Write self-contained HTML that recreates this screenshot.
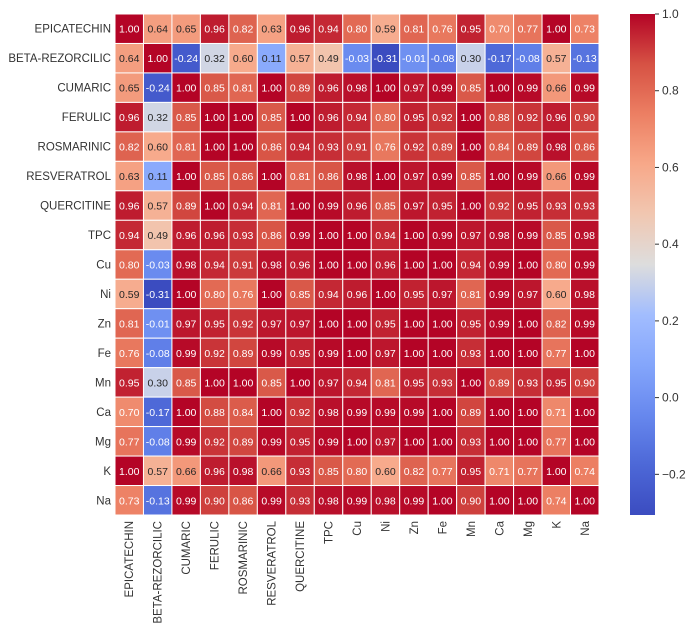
<!DOCTYPE html>
<html><head><meta charset="utf-8"><style>
body{margin:0;background:#fff;width:699px;height:634px;overflow:hidden}
svg text{font-family:"Liberation Sans",sans-serif}
</style></head><body>
<svg id="chart" width="699" height="634" xmlns="http://www.w3.org/2000/svg">
<defs><linearGradient id="cbg" x1="0" y1="1" x2="0" y2="0"></linearGradient></defs>
</svg>
<script>
const labels=["EPICATECHIN","BETA-REZORCILIC","CUMARIC","FERULIC","ROSMARINIC","RESVERATROL","QUERCITINE","TPC","Cu","Ni","Zn","Fe","Mn","Ca","Mg","K","Na"];
const rowEPI=[1.00,0.64,0.65,0.96,0.82,0.63,0.96,0.94,0.80,0.59,0.81,0.76,0.95,0.70,0.77,1.00,0.73];
const rowBETA=[0.64,1.00,-0.24,0.32,0.60,0.11,0.57,0.49,-0.03,-0.31,-0.01,-0.08,0.30,-0.17,-0.08,0.57,-0.13];
const rowCUM=[0.65,-0.24,1.00,0.85,0.81,1.00,0.89,0.96,0.98,1.00,0.97,0.99,0.85,1.00,0.99,0.66,0.99];
const rowFER=[0.96,0.32,0.85,1.00,1.00,0.85,1.00,0.96,0.94,0.80,0.95,0.92,1.00,0.88,0.92,0.96,0.90];
const rowROS=[0.82,0.60,0.81,1.00,1.00,0.86,0.94,0.93,0.91,0.76,0.92,0.89,1.00,0.84,0.89,0.98,0.86];
const rowRES=[0.63,0.11,1.00,0.85,0.86,1.00,0.81,0.86,0.98,1.00,0.97,0.99,0.85,1.00,0.99,0.66,0.99];
const rowQUE=[0.96,0.57,0.89,1.00,0.94,0.81,1.00,0.99,0.96,0.85,0.97,0.95,1.00,0.92,0.95,0.93,0.93];
const rowTPC=[0.94,0.49,0.96,0.96,0.93,0.86,0.99,1.00,1.00,0.94,1.00,0.99,0.97,0.98,0.99,0.85,0.98];
const rowCu=[0.80,-0.03,0.98,0.94,0.91,0.98,0.96,1.00,1.00,0.96,1.00,1.00,0.94,0.99,1.00,0.80,0.99];
const rowNi=[0.59,-0.31,1.00,0.80,0.76,1.00,0.85,0.94,0.96,1.00,0.95,0.97,0.81,0.99,0.97,0.60,0.98];
const rowZn=[0.81,-0.01,0.97,0.95,0.92,0.97,0.97,1.00,1.00,0.95,1.00,1.00,0.95,0.99,1.00,0.82,0.99];
const rowFe=[0.76,-0.08,0.99,0.92,0.89,0.99,0.95,0.99,1.00,0.97,1.00,1.00,0.93,1.00,1.00,0.77,1.00];
const rowMn=[0.95,0.30,0.85,1.00,1.00,0.85,1.00,0.97,0.94,0.81,0.95,0.93,1.00,0.89,0.93,0.95,0.90];
const rowCa=[0.70,-0.17,1.00,0.88,0.84,1.00,0.92,0.98,0.99,0.99,0.99,1.00,0.89,1.00,1.00,0.71,1.00];
const rowMg=[0.77,-0.08,0.99,0.92,0.89,0.99,0.95,0.99,1.00,0.97,1.00,1.00,0.93,1.00,1.00,0.77,1.00];
const rowK=[1.00,0.57,0.66,0.96,0.98,0.66,0.93,0.85,0.80,0.60,0.82,0.77,0.95,0.71,0.77,1.00,0.74];
const rowNa=[0.73,-0.13,0.99,0.90,0.86,0.99,0.93,0.98,0.99,0.98,0.99,1.00,0.90,1.00,1.00,0.74,1.00];
const matrix=[rowEPI,rowBETA,rowCUM,rowFER,rowROS,rowRES,rowQUE,rowTPC,rowCu,rowNi,rowZn,rowFe,rowMn,rowCa,rowMg,rowK,rowNa];
const cbTicks=[-0.2,0.0,0.2,0.4,0.6,0.8,1.0];
const vmin=-0.306,vmax=1.0;

const NS="http://www.w3.org/2000/svg";
const svg=document.getElementById('chart');
const X0=115,Y0=14,W=484,H=501,n=labels.length,cw=W/n,ch=H/n;
const xs=i=>X0+i*cw, ys=i=>Y0+i*ch;
const stops=[[0,59,76,192],[0.1,77,104,215],[0.2,103,136,238],[0.3,132,166,251],[0.4,162,189,254],[0.5,221,221,221],[0.6,241,199,177],[0.7,247,168,137],[0.8,236,127,99],[0.9,214,82,68],[1,180,4,38]];
function cmap(v){let t=(v-vmin)/(vmax-vmin);t=Math.max(0,Math.min(1,t));
for(let k=1;k<stops.length;k++){if(t<=stops[k][0]){const a=stops[k-1],b=stops[k],f=(t-a[0])/(b[0]-a[0]);
return [1,2,3].map(j=>Math.round(a[j]+(b[j]-a[j])*f));}}return [180,4,38];}
function relLum(c){const l=c.map(x=>{x/=255;return x<=0.03928?x/12.92:Math.pow((x+0.055)/1.055,2.4);});return 0.2126*l[0]+0.7152*l[1]+0.0722*l[2];}
function el(tag,attrs,txt){const e=document.createElementNS(NS,tag);for(const k in attrs)e.setAttribute(k,attrs[k]);if(txt!==undefined)e.textContent=txt;svg.appendChild(e);return e;}
const fmt=v=>{let s=v.toFixed(2);if(s==="-0.00")s="0.00";return s;};
for(let r=0;r<n;r++)for(let c=0;c<n;c++){
 const v=matrix[r][c],col=cmap(v);
 const rc=el('rect',{x:xs(c),y:ys(r),width:cw,height:ch,fill:`rgb(${col})`,stroke:'#fff','stroke-width':1});
 
 
 const t=el('text',{x:xs(c)+cw/2,y:ys(r)+ch/2+4,'text-anchor':'middle','font-size':10.5,fill:relLum(col)>0.408?'#262626':'#fff'},fmt(v));
 
 
}
labels.forEach((l,i)=>{
 const t=el('text',{x:X0-4,y:ys(i)+ch/2+4,'text-anchor':'end','font-size':11.5,fill:'#333'},l);
 
 
 const cx=xs(i)+cw/2;
 const t2=el('text',{x:cx+4,y:Y0+H+6,'text-anchor':'end','font-size':11.5,fill:'#333',transform:`rotate(-90 ${cx+4} ${Y0+H+6})`},l);
 
 
});
const CX=630,CW=25,CT=14,CB=515;
const cy=v=>CB-(v-vmin)/(vmax-vmin)*(CB-CT);
const g=document.getElementById('cbg');
for(let k=0;k<=20;k++){const v=vmin+(vmax-vmin)*k/20;const s=document.createElementNS(NS,'stop');s.setAttribute('offset',k/20);s.setAttribute('stop-color',`rgb(${cmap(v)})`);g.appendChild(s);}
const cb=el('rect',{x:CX,y:CT,width:CW,height:CB-CT,fill:'url(#cbg)'});


cbTicks.forEach(v=>{
 el('line',{x1:CX+CW,x2:CX+CW+4,y1:cy(v),y2:cy(v),stroke:'#333','stroke-width':1});
 const t=el('text',{x:CX+CW+7,y:cy(v)+4,'font-size':12,fill:'#333'},v.toFixed(1).replace('-','\u2212'));
 
 
});
</script>
</body></html>
